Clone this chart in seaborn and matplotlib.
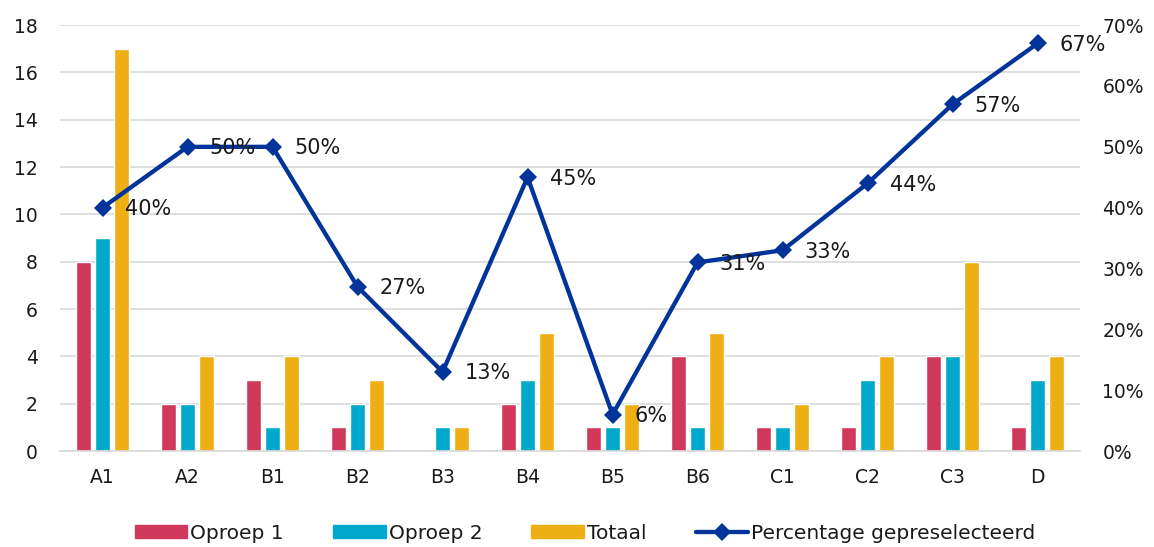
import matplotlib
matplotlib.use("Agg")
import matplotlib.pyplot as plt
import matplotlib.ticker as mticker
import numpy as np
import pandas as pd
import seaborn as sns

# Data
categories = ["A1", "A2", "B1", "B2", "B3", "B4", "B5", "B6", "C1", "C2", "C3", "D"]
oproep_1 = [8, 2, 3, 1, 0, 2, 1, 4, 1, 1, 4, 1]
oproep_2 = [9, 2, 1, 2, 1, 3, 1, 1, 1, 3, 4, 3]
totaal = [17, 4, 4, 3, 1, 5, 2, 5, 2, 4, 8, 4]
percentage = [0.40, 0.50, 0.50, 0.27, 0.13, 0.45, 0.06, 0.31, 0.33, 0.44, 0.57, 0.67]

series_names = ["Oproep 1", "Oproep 2", "Totaal"]
line_name = "Percentage gepreselecteerd"
colors = {"Oproep 1": "#D0395C", "Oproep 2": "#00A9CB", "Totaal": "#EEAF14"}
line_color = "#00349B"
text_color = "#1a1a1a"

bars = pd.DataFrame({
    "categorie": categories * 3,
    "aantal": oproep_1 + oproep_2 + totaal,
    "reeks": [s for s in series_names for _ in categories],
})
line_df = pd.DataFrame({"categorie": categories, "pct": percentage})

sns.set_theme(style="white")
plt.rcParams["font.family"] = ["DejaVu Sans"]

fig = plt.figure(figsize=(11.54, 5.47), dpi=100)
ax = fig.add_axes([0.052, 0.1755, 0.884, 0.7785])

sns.barplot(data=bars, x="categorie", y="aantal", hue="reeks",
            hue_order=series_names, palette=colors, width=0.66, gap=0.2,
            order=categories, ax=ax, legend=False, saturation=1)

ax.set_ylim(0, 18)
ax.set_yticks(range(0, 19, 2))
ax.set_xlim(-0.5, len(categories) - 0.5)
ax.set_xlabel("")
ax.set_ylabel("")
ax.grid(axis="y", color="#D9D9D9", linewidth=1.2)
ax.set_axisbelow(True)
for side in ["top", "right", "left"]:
    ax.spines[side].set_visible(False)
ax.spines["bottom"].set_color("#D9D9D9")
ax.spines["bottom"].set_linewidth(1.2)
ax.tick_params(axis="both", length=0, labelsize=13.5, colors=text_color)
ax.tick_params(axis="x", pad=12)
ax.tick_params(axis="y", pad=16)

ax2 = ax.twinx()
sns.lineplot(data=line_df, x="categorie", y="pct", ax=ax2, color=line_color,
             linewidth=3.1, marker="D", markersize=9, markeredgewidth=0,
             sort=False, legend=False)
ax2.set_ylim(0, 0.70)
ax2.set_yticks(np.arange(0, 0.71, 0.10))
ax2.yaxis.set_major_formatter(mticker.PercentFormatter(1.0, decimals=0))
ax2.set_ylabel("")
ax2.set_xlabel("")
for side in ["top", "right", "left", "bottom"]:
    ax2.spines[side].set_visible(False)
ax2.tick_params(axis="y", length=0, labelsize=13.5, colors=text_color, pad=16)
ax2.grid(False)

for i, v in enumerate(percentage):
    ax2.annotate(f"{v:.0%}", (i, v), xytext=(16, -1), textcoords="offset points",
                 va="center", ha="left", fontsize=15, color=text_color)

handles = [plt.Rectangle((0, 0), 1, 1, color=colors[s]) for s in series_names]
handles.append(plt.Line2D([], [], color=line_color, linewidth=3.1, marker="D",
                          markersize=9, markeredgewidth=0))
fig.legend(handles, series_names + [line_name], loc="lower center",
           bbox_to_anchor=(0.507, -0.025), ncol=4, frameon=False, fontsize=14.5,
           handlelength=2.6, handleheight=0.65, columnspacing=2.45,
           handletextpad=0.15, labelcolor=text_color)

fig.savefig("out.png", dpi=100)
